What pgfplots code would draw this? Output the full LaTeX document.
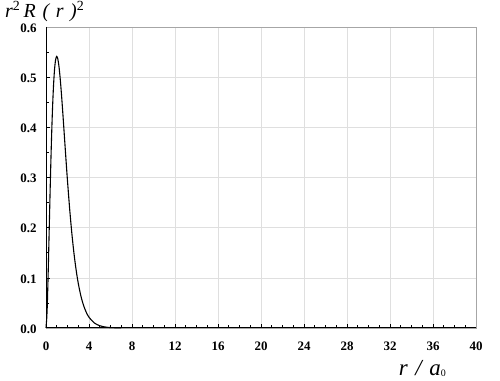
\documentclass[border=0pt]{standalone}
\usepackage{pgfplots}
\pgfplotsset{compat=1.18}
\usepackage{fontspec}
\setmainfont{Liberation Serif}
\begin{document}
\begin{tikzpicture}
\begin{axis}[
  scale only axis,
  width=430bp, height=301bp,
  xmin=0, xmax=40, ymin=0, ymax=0.6,
  xtick={0,4,...,40}, ytick={0,0.1,...,0.6},
  minor x tick num=3, minor y tick num=1,
  tick align=inside,
  major tick length=4bp, minor tick length=3bp,
  tick style={black, line width=0.6pt},
  grid=major, major grid style={gray!25, line width=0.5pt},
  axis line style={gray!70, line width=0.8pt},
  xtick pos=bottom, ytick pos=left,
  /pgf/number format/assume math mode=true,
  ticklabel style={font=\fontsize{13}{15}\selectfont\bfseries},
  yticklabel style={/pgf/number format/fixed, /pgf/number format/precision=1, /pgf/number format/fixed zerofill},
  xticklabel style={yshift=-10bp},
  yticklabel style={xshift=-6bp, yshift=-1bp},
  clip=false,
]
\addplot[black, line width=1.1pt, smooth] coordinates {
(0,0) (0.1,0.03275) (0.2,0.10725) (0.3,0.19757) (0.4,0.28757) (0.5,0.36788)
(0.6,0.43371) (0.7,0.48333) (0.8,0.51686) (0.9,0.53557) (1.0,0.54134)
(1.1,0.53629) (1.2,0.52254) (1.3,0.50209) (1.4,0.47675) (1.5,0.44808)
(1.6,0.41740) (1.7,0.38579) (1.8,0.35412) (1.9,0.32304) (2.0,0.29305)
(2.2,0.23768) (2.4,0.18961) (2.6,0.14917) (2.8,0.11597) (3.0,0.08924)
(3.25,0.06352) (3.5,0.04468) (3.75,0.03111) (4.0,0.02147) (4.5,0.01000)
(5.0,0.00454) (5.5,0.00202) (6.0,0.00088) (7.0,0.00016)
};
\draw[black, line width=1pt] (axis cs:0,0.6) -- (axis cs:0,0) -- (axis cs:40,0);
\node[anchor=base, font=\fontsize{23}{26}\selectfont\itshape] at (axis cs:35,-0.095) {r\,\,/\,\,a\raisebox{-0.1ex}{\fontsize{10}{11}\selectfont\upshape 0}};
\end{axis}
\node[anchor=base west, inner sep=0pt, font=\fontsize{20}{24}\selectfont\itshape] at ([xshift=-41bp,yshift=9bp]current axis.north west) {r\textsuperscript{\upshape 2}\,R\,\,(\,\,r\,\,)\textsuperscript{\upshape 2}};
\path[use as bounding box] ([xshift=-46bp,yshift=-47bp]current axis.south west) rectangle ([xshift=24bp,yshift=27bp]current axis.north east);
\end{tikzpicture}
\end{document}
